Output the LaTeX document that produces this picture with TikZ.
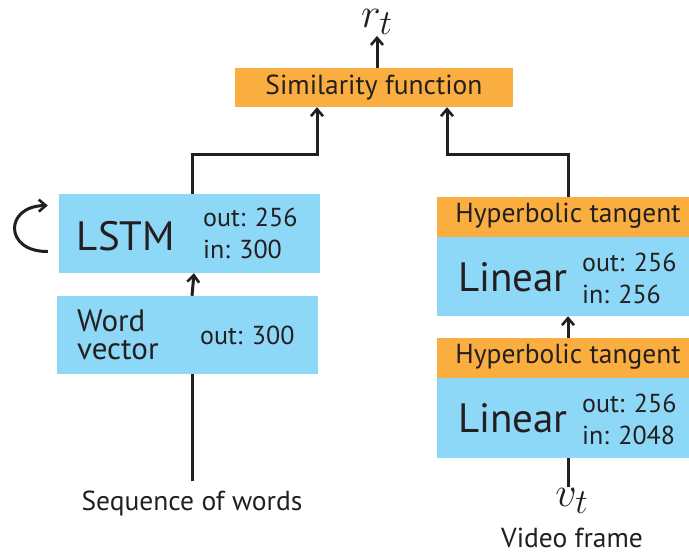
\documentclass[tikz,border=0pt]{standalone}
\usepackage{fontspec}
\setmainfont{PT Sans}
\usetikzlibrary{arrows.meta}
\definecolor{boxorange}{RGB}{250,174,64}
\definecolor{boxblue}{RGB}{142,216,247}
\definecolor{ink}{RGB}{35,31,32}
\begin{document}
\begin{tikzpicture}[x=1pt,y=-1pt,
  every node/.style={text=ink},
  orangebox/.style={fill=boxorange, inner sep=0pt, font=\fontsize{27.5}{32}\selectfont},
  bluebox/.style={fill=boxblue, inner sep=0pt},
  bigtext/.style={font=\fontsize{41}{44}\selectfont, inner sep=0pt},
  sizes/.style={font=\fontsize{26}{32}\selectfont, align=left, anchor=west, inner sep=0pt},
  caption/.style={font=\fontsize{27.5}{32}\selectfont, inner sep=0pt},
  mathlabel/.style={font=\Huge, scale=1.69, inner sep=0.6pt},
  conn/.style={draw=ink, line width=3pt},
  arr/.style={conn, -{Straight Barb[length=7pt,width=12pt,line width=2.6pt]}}]
\useasboundingbox (0,0) rectangle (689,555);

% similarity and output
\node[orangebox, minimum width=278pt, minimum height=39pt] (sim) at (374,87.5) {Similarity function};
\node[mathlabel] (rt) at (377,22) {$r_t$};

% text branch
\node[bluebox, minimum width=261pt, minimum height=79pt] (lstm) at (189.5,233.5) {};
\node[bigtext] (lstmname) at (126,236) {LSTM};
\node[sizes] (lstmsz) at (203,233) {out: 256\\in: 300};

\node[bluebox, minimum width=261pt, minimum height=78pt] (wv) at (187.5,335) {};
\node[font=\fontsize{31}{28}\selectfont, align=left, anchor=west, inner sep=0pt] (wvname) at (77,335) {Word\\vector};
\node[sizes] (wvsz) at (200,335) {out: 300};

\node[caption] (seq) at (192,503) {Sequence of words};

% video branch
\node[orangebox, minimum width=252pt, minimum height=40pt] (th1) at (563,217) {};
\node[caption] (th1t) at (568,216) {Hyperbolic tangent};
\node[bluebox, minimum width=252pt, minimum height=79pt] (lin1) at (563,276.5) {};
\node[bigtext] (lin1name) at (513,277) {Linear};
\node[sizes] (lin1sz) at (582,278) {out: 256\\in: 256};

\node[orangebox, minimum width=252pt, minimum height=40pt] (th2) at (563,358) {};
\node[caption] (th2t) at (568,357) {Hyperbolic tangent};
\node[bluebox, minimum width=252pt, minimum height=80pt] (lin2) at (563,418) {};
\node[bigtext] (lin2name) at (513,418) {Linear};
\node[sizes] (lin2sz) at (582,419) {out: 256\\in: 2048};

\node[mathlabel] (vt) at (572,501) {$v_t$};
\node[caption] (vf) at (572,538) {Video frame};

% connectors
\coordinate (simL) at ([xshift=-57pt]sim.south);
\coordinate (simR) at ([xshift=73pt]sim.south);
\draw[arr] ([xshift=3pt]sim.north) -- ([xshift=3pt]sim.north |- rt.south);
\draw[arr] ([xshift=2.5pt]lstm.north) -- ++(0,-39) -| (simL);
\draw[arr] ([xshift=5pt]th1.north) -- ++(0,-42) -| (simR);
\draw[arr] ([xshift=4.5pt]wv.north) -- ([xshift=4.5pt]lstm.south);
\draw[conn] ([yshift=9pt]seq.north) -- (seq.north |- wv.south);
\draw[arr] ([xshift=5pt]th2.north) -- ([xshift=5pt]lin1.south);
\draw[conn] ([xshift=5pt]lin2.south) -- ([xshift=5pt]lin2.south |- vt.north);

% recurrence loop beside the LSTM
\coordinate (loopstart) at ([xshift=-11pt,yshift=-18pt]lstm.west);
\coordinate (loopend) at ([xshift=-11pt,yshift=28pt]lstm.west);
\draw[arr] (loopstart) .. controls (4,252) and (4,206) .. (loopend);
\end{tikzpicture}
\end{document}
